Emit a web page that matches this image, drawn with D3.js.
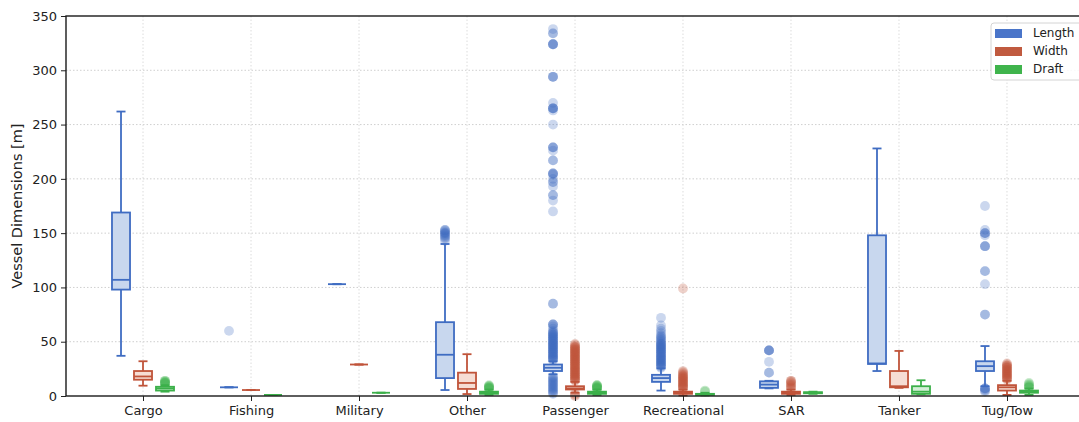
<!DOCTYPE html>
<html>
<head>
<meta charset="utf-8">
<script src="https://cdn.jsdelivr.net/npm/d3@7"></script>
<style>
  html, body { margin: 0; padding: 0; background: #fff; }
  svg { display: block; }
  text { font-family: "DejaVu Sans", sans-serif; fill: #222; }
</style>
</head>
<body>
<svg id="chart" width="1079" height="422"></svg>
<script>
// Vessel type categories and the three measured dimensions
const categories = ["Cargo", "Fishing", "Military", "Other", "Passenger", "Recreational", "SAR", "Tanker", "Tug/Tow"];
const seriesNames = ["Length", "Width", "Draft"];
const yTicks = [0, 50, 100, 150, 200, 250, 300, 350];

// Box statistics per category: [lower whisker, Q1, median, Q3, upper whisker]
const lengthStats = [
  [37, 98, 107, 169, 262],
  [8, 8, 8, 8, 8],
  [103, 103, 103, 103, 103],
  [5.5, 16.5, 38, 68, 140],
  [20, 23, 26, 29, 32],
  [5, 13, 16.5, 19.5, 25.5],
  [7, 7.5, 10.5, 13.5, 14],
  [23, 29.5, 30, 148, 228],
  [9, 23, 27.5, 32, 46]
];
const widthStats = [
  [9.5, 15, 18, 23, 32],
  [5.5, 5.5, 5.5, 5.5, 5.5],
  [29, 29, 29, 29, 29],
  [1.8, 6.5, 12, 21.5, 38.5],
  [3, 6, 7, 9, 13],
  [0.5, 2, 3, 4, 6],
  [1, 2, 3, 4, 6],
  [7.5, 8, 9, 23, 41.5],
  [1, 5, 8, 10, 14]
];
const draftStats = [
  [4, 5, 7, 8.5, 10],
  [1, 1, 1, 1, 1],
  [3, 3, 3, 3, 3],
  [1, 2, 3, 4, 6],
  [1, 2, 3, 4, 6],
  [0.5, 1, 1.5, 2, 3],
  [2, 2.5, 3, 3.5, 4],
  [1.5, 2, 4, 9, 14.5],
  [1, 3, 4, 5, 7]
];

// Outlying observations per category (repeated values are separate vessels)
const lengthOutliers = [
  [],
  [60],
  [],
  [143, 145, 146, 147, 148, 149, 150, 150, 151, 152, 153, 153],
  [2, 3, 4, 5, 6, 7, 8, 9, 10, 11, 12, 13, 14, 15, 16, 17, 18,
   33, 34, 35, 36, 37, 38, 39, 40, 41, 42, 43, 44, 45, 46, 47, 48, 49, 50, 51, 52, 53, 54, 55, 56, 57, 58, 59, 60,
   34, 36, 38, 40, 42, 44, 46, 48, 50, 52, 54, 56, 58, 62, 64, 66, 66, 66, 85, 85,
   170, 180, 185, 185, 193, 197, 197, 200, 204, 205, 205, 205, 217, 217, 226, 229, 229, 229,
   250, 263, 265, 265, 265, 265, 270, 294, 294, 294, 324, 324, 324, 324, 334, 334, 338],
  [26, 27, 28, 29, 30, 31, 32, 33, 34, 35, 36, 37, 38, 39, 40, 41, 42, 43, 44, 45, 46, 47, 48, 49, 50,
   28, 30, 32, 34, 36, 38, 40, 42, 44, 46, 48, 51, 52, 53, 54, 55, 56, 58, 60, 62, 65, 72],
  [21.5, 21.5, 31.5, 42, 42, 42, 42],
  [],
  [4, 5, 6, 7, 7, 7, 75, 75, 103, 115, 115, 138, 138, 138, 148, 150, 150, 150, 153, 175]
];
const widthOutliers = [
  [],
  [],
  [],
  [],
  [0, 1, 2, 14, 15, 16, 17, 18, 19, 20, 21, 22, 23, 24, 25, 26, 27, 28, 29, 30, 31, 32, 33, 34, 35, 36, 37, 38, 39, 40, 41, 42, 43, 44, 45, 46,
   15, 17, 19, 21, 23, 25, 27, 29, 31, 33, 35, 37, 39, 41, 43, 45, 47, 48],
  [7, 8, 9, 10, 11, 12, 13, 14, 15, 16, 17, 18, 19, 20, 21, 22, 23, 8, 10, 12, 14, 16, 18, 99],
  [7, 8, 9, 10, 11, 12, 13, 14, 14],
  [],
  [15, 16, 17, 18, 19, 20, 21, 22, 23, 24, 25, 26, 27, 28, 29, 30, 16, 18, 20, 22, 24, 26, 28]
];
const draftOutliers = [
  [11, 12, 12, 13, 13, 14, 14],
  [],
  [],
  [7, 7, 8, 8, 9, 9, 10],
  [7, 7, 8, 8, 9, 9, 10, 10],
  [4, 5],
  [],
  [],
  [8, 8, 9, 10, 11, 12]
];

const statsBySeries = [lengthStats, widthStats, draftStats];
const outliersBySeries = [lengthOutliers, widthOutliers, draftOutliers];

// Colours: stroke, box fill and legend swatch per dimension
const strokeColors = ["#3f6cc2", "#c0543a", "#3cb04a"];
const fillColors = ["#c8d7ee", "#f6ddd4", "#d3efd6"];
const swatchColors = ["#4a75c9", "#c05a3f", "#3fb44c"];

const svg = d3.select("#chart");
const margin = { top: 16, left: 66, bottom: 26 };
const plotRight = 1084;
const H = 422;

const x = d3.scalePoint()
  .domain(categories)
  .range([margin.left, plotRight])
  .padding(0.713);

const offset = d3.scaleBand()
  .domain(seriesNames)
  .range([-33, 33]);

const y = d3.scaleLinear()
  .domain([0, 350])
  .range([H - margin.bottom, margin.top]);

const boxW = offset.bandwidth() * 0.82;
const capW = boxW / 2;

// Dotted grid
const grid = svg.append("g");
grid.selectAll("line.h").data(yTicks.filter(d => d > 0 && d < 350)).join("line")
  .attr("x1", margin.left).attr("x2", plotRight)
  .attr("y1", d => y(d)).attr("y2", d => y(d))
  .attr("stroke", "#cfcfcf").attr("stroke-width", 1)
  .attr("stroke-dasharray", "1.5,2");
grid.selectAll("line.v").data(categories).join("line")
  .attr("x1", d => x(d)).attr("x2", d => x(d))
  .attr("y1", margin.top).attr("y2", y(0))
  .attr("stroke", "#dcdcdc").attr("stroke-width", 1)
  .attr("stroke-dasharray", "1.5,2");

// Boxes, whiskers and outliers
seriesNames.forEach((name, si) => {
  const g = svg.append("g").attr("class", "series-" + name);
  const stroke = strokeColors[si];
  const rows = categories.map((c, ci) => ({ c, s: statsBySeries[si][ci], out: outliersBySeries[si][ci] }));
  const cx = d => x(d.c) + offset(name) + offset.bandwidth() / 2;

  // outliers first so boxes sit above them
  rows.forEach(r => {
    g.selectAll(null).data(r.out).join("circle")
      .attr("cx", cx(r))
      .attr("cy", v => y(v))
      .attr("r", 4.9)
      .attr("fill", stroke)
      .attr("fill-opacity", 0.27);
  });

  rows.forEach(r => {
    const [lo, q1, med, q3, hi] = r.s;
    const c = cx(r);
    const lw = 1.8;
    // whiskers
    g.append("line").attr("x1", c).attr("x2", c).attr("y1", y(q3)).attr("y2", y(hi))
      .attr("stroke", stroke).attr("stroke-width", lw);
    g.append("line").attr("x1", c).attr("x2", c).attr("y1", y(q1)).attr("y2", y(lo))
      .attr("stroke", stroke).attr("stroke-width", lw);
    [lo, hi].forEach(v => {
      g.append("line").attr("x1", c - capW / 2).attr("x2", c + capW / 2)
        .attr("y1", y(v)).attr("y2", y(v))
        .attr("stroke", stroke).attr("stroke-width", lw);
    });
    // box
    g.append("rect")
      .attr("x", c - boxW / 2).attr("width", boxW)
      .attr("y", y(q3)).attr("height", Math.max(0, y(q1) - y(q3)))
      .attr("fill", fillColors[si]).attr("stroke", stroke).attr("stroke-width", lw);
    // median
    g.append("line").attr("x1", c - boxW / 2).attr("x2", c + boxW / 2)
      .attr("y1", y(med)).attr("y2", y(med))
      .attr("stroke", stroke).attr("stroke-width", lw);
  });
});

// Axes
const yAxis = svg.append("g")
  .attr("transform", `translate(${margin.left},0)`)
  .call(d3.axisLeft(y).tickValues(yTicks).tickSize(5).tickPadding(4));
yAxis.select(".domain").remove();
yAxis.selectAll("text").style("font-size", "13px").attr("fill", "#222");
yAxis.selectAll(".tick line").attr("stroke", "#222");

const xAxis = svg.append("g")
  .attr("transform", `translate(0,${y(0)})`)
  .call(d3.axisBottom(x).tickSize(5).tickPadding(5));
xAxis.select(".domain").remove();
xAxis.selectAll("text").style("font-size", "13px").attr("fill", "#222");
xAxis.selectAll(".tick line").attr("stroke", "#222");

// Frame
svg.append("rect")
  .attr("x", margin.left).attr("y", margin.top)
  .attr("width", plotRight - margin.left).attr("height", y(0) - margin.top)
  .attr("fill", "none").attr("stroke", "#1a1a1a").attr("stroke-width", 1.4);

// Axis title
svg.append("text")
  .attr("transform", `translate(22,${(margin.top + y(0)) / 2}) rotate(-90)`)
  .attr("text-anchor", "middle")
  .style("font-size", "14.5px")
  .text("Vessel Dimensions [m]");

// Legend
const legend = svg.append("g").attr("transform", "translate(991,23)");
legend.append("rect")
  .attr("width", 96).attr("height", 57).attr("rx", 3)
  .attr("fill", "#fff").attr("fill-opacity", 0.85)
  .attr("stroke", "#d4d4d4");
seriesNames.forEach((name, i) => {
  const row = legend.append("g").attr("transform", `translate(4,${10 + i * 18})`);
  row.append("rect").attr("x", 0).attr("y", -4).attr("width", 27).attr("height", 9)
    .attr("fill", swatchColors[i]);
  row.append("text").attr("x", 38).attr("y", 0).attr("dy", "0.35em")
    .style("font-size", "12px").text(name);
});
</script>
</body>
</html>
